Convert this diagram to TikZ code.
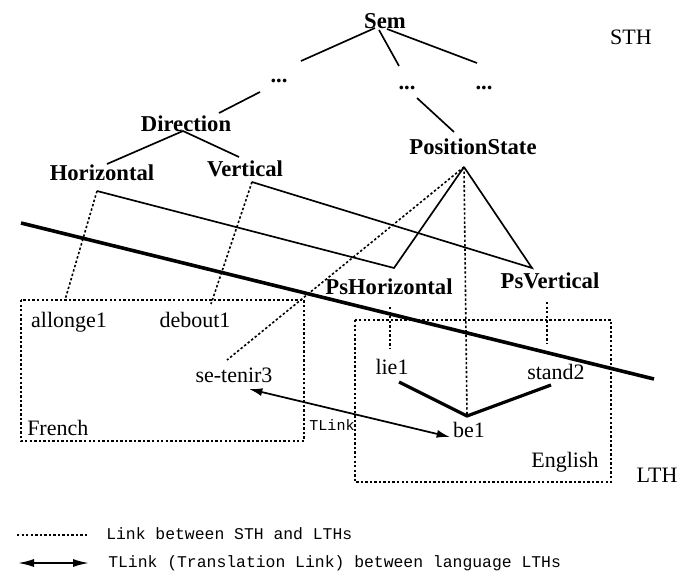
\documentclass[tikz,border=0pt]{standalone}
\usepackage{fontspec}
\setmainfont{Liberation Serif}
\setmonofont{Liberation Mono}
\usetikzlibrary{arrows.meta}

\begin{document}
\begin{tikzpicture}[x=0.75pt, y=-0.75pt,
	lab/.style={font=\fontsize{16.5}{18}\selectfont, inner sep=0pt, anchor=base},
	cpt/.style={font=\fontsize{17}{19}\selectfont\bfseries, inner sep=0pt, anchor=base},
	mono/.style={font=\ttfamily\fontsize{12.3}{14}\selectfont, inner sep=0pt, anchor=base west},
	isa/.style={line width=1.25pt},
	sthlink/.style={line width=1.2pt, dash pattern=on 1.8pt off 1.6pt},
	lthlink/.style={line width=2.4pt},
	tlink/.style={line width=1.3pt, {Latex[length=10pt,width=6pt]}-{Latex[length=10pt,width=6pt]}}]
	\useasboundingbox (0,0) rectangle (681,573);
	% concepts (STH)
	\node[cpt] (sem) at (385,29) {Sem};
	\node[lab] (sth) at (631,45) {STH};
	\node[cpt] (dots1) at (279,83) {...};
	\node[cpt] (dots2) at (407,90) {...};
	\node[cpt] (dots3) at (484,90) {...};
	\node[cpt] (dir) at (186,132) {Direction};
	\node[cpt] (hor) at (102,181) {Horizontal};
	\node[cpt] (ver) at (245,177) {Vertical};
	\node[cpt] (pos) at (473,155) {PositionState};
	\node[cpt] (pshor) at (389,295) {PsHorizontal};
	\node[cpt] (psver) at (550,289) {PsVertical};
	% words (LTHs)
	\node[lab] (allonge) at (69,327) {allonge1};
	\node[lab] (debout) at (195,327) {debout1};
	\node[lab] (setenir) at (234,382) {se-tenir3};
	\node[lab] (lie) at (392,374) {lie1};
	\node[lab] (stand) at (556,379) {stand2};
	\node[lab] (be) at (469,437) {be1};
	\node[lab, anchor=base west] (french) at (27,435) {French};
	\node[lab] (english) at (565,467) {English};
	\node[lab] (lth) at (657,482) {LTH};
	\node[mono, anchor=base, font=\ttfamily\fontsize{11.3}{13}\selectfont] (tlinklab) at (332,430) {TLink};
	% connector ends
	\coordinate (sem-a) at (375,28);
	\coordinate (sem-b) at (379,30);
	\coordinate (sem-c) at (387,29);
	\coordinate (d1-top) at (301,61);
	\coordinate (d2-top) at (399,66);
	\coordinate (d3-top) at (477,63);
	\coordinate (d1-bot) at (260,92);
	\coordinate (d2-bot) at (417,98);
	\coordinate (dir-top) at (219,113);
	\coordinate (dir-bot) at (183,131);
	\coordinate (pos-top) at (454,132);
	\coordinate (hor-top) at (107,164);
	\coordinate (ver-top) at (239,157);
	\coordinate (hor-foot) at (97,191);
	\coordinate (ver-foot) at (252,182);
	\coordinate (pos-apex) at (464,167);
	\coordinate (pshor-corner) at (394,268);
	\coordinate (psver-corner) at (532,268);
	\coordinate (pshor-bot) at (390,307);
	\coordinate (psver-bot) at (547,302);
	\coordinate (allonge-top) at (65,300);
	\coordinate (debout-top) at (211,304);
	\coordinate (setenir-top) at (227,360);
	\coordinate (lie-top) at (390,349);
	\coordinate (stand-top) at (547,344);
	\coordinate (lie-bot) at (399,382);
	\coordinate (stand-bot) at (551,385);
	\coordinate (be-top) at (467,416);
	\coordinate (setenir-r) at (249,389);
	\coordinate (be-l) at (450,437);
	\coordinate (sep-w) at (21,223);
	\coordinate (sep-e) at (654,379);
	% hierarchy
	\draw[isa] (sem-a) -- (d1-top);
	\draw[isa] (sem-b) -- (d2-top);
	\draw[isa] (sem-c) -- (d3-top);
	\draw[isa] (d1-bot) -- (dir-top);
	\draw[isa] (d2-bot) -- (pos-top);
	\draw[isa] (dir-bot) -- (hor-top);
	\draw[isa] (dir-bot) -- (ver-top);
	\draw[isa] (hor-foot) -- (pshor-corner) -- (pos-apex);
	\draw[isa] (ver-foot) -- (psver-corner) -- (pos-apex);
	\draw[line width=2.7pt] (sep-w) -- (sep-e);
	% STH to LTH links
	\draw[sthlink] (hor-foot) -- (allonge-top);
	\draw[sthlink] (ver-foot) -- (debout-top);
	\draw[sthlink] (pos-apex) -- (setenir-top);
	\draw[sthlink] (pos-apex) -- (be-top);
	\draw[sthlink] (pshor-bot) -- (lie-top);
	\draw[sthlink] (psver-bot) -- (stand-top);
	\draw[sthlink] (21,300) rectangle (304,441);
	\draw[sthlink] (355,320) rectangle (611,482);
	\draw[lthlink] (lie-bot) -- (be-top) -- (stand-bot);
	\draw[tlink] (setenir-r) -- (be-l);
	% legend
	\node[mono] (leg1) at (106,539) {Link between STH and LTHs};
	\node[mono] (leg2) at (108,567) {TLink (Translation Link) between language LTHs};
	\coordinate (leg1-a) at (17,535);
	\coordinate (leg1-b) at (87,535);
	\coordinate (leg2-a) at (18,563);
	\coordinate (leg2-b) at (89,563);
	\draw[sthlink] (leg1-a) -- (leg1-b);
	\draw[tlink, {Latex[length=12pt,width=6pt]}-{Latex[length=12pt,width=6pt]}] (leg2-a) -- (leg2-b);
\end{tikzpicture}
\end{document}
